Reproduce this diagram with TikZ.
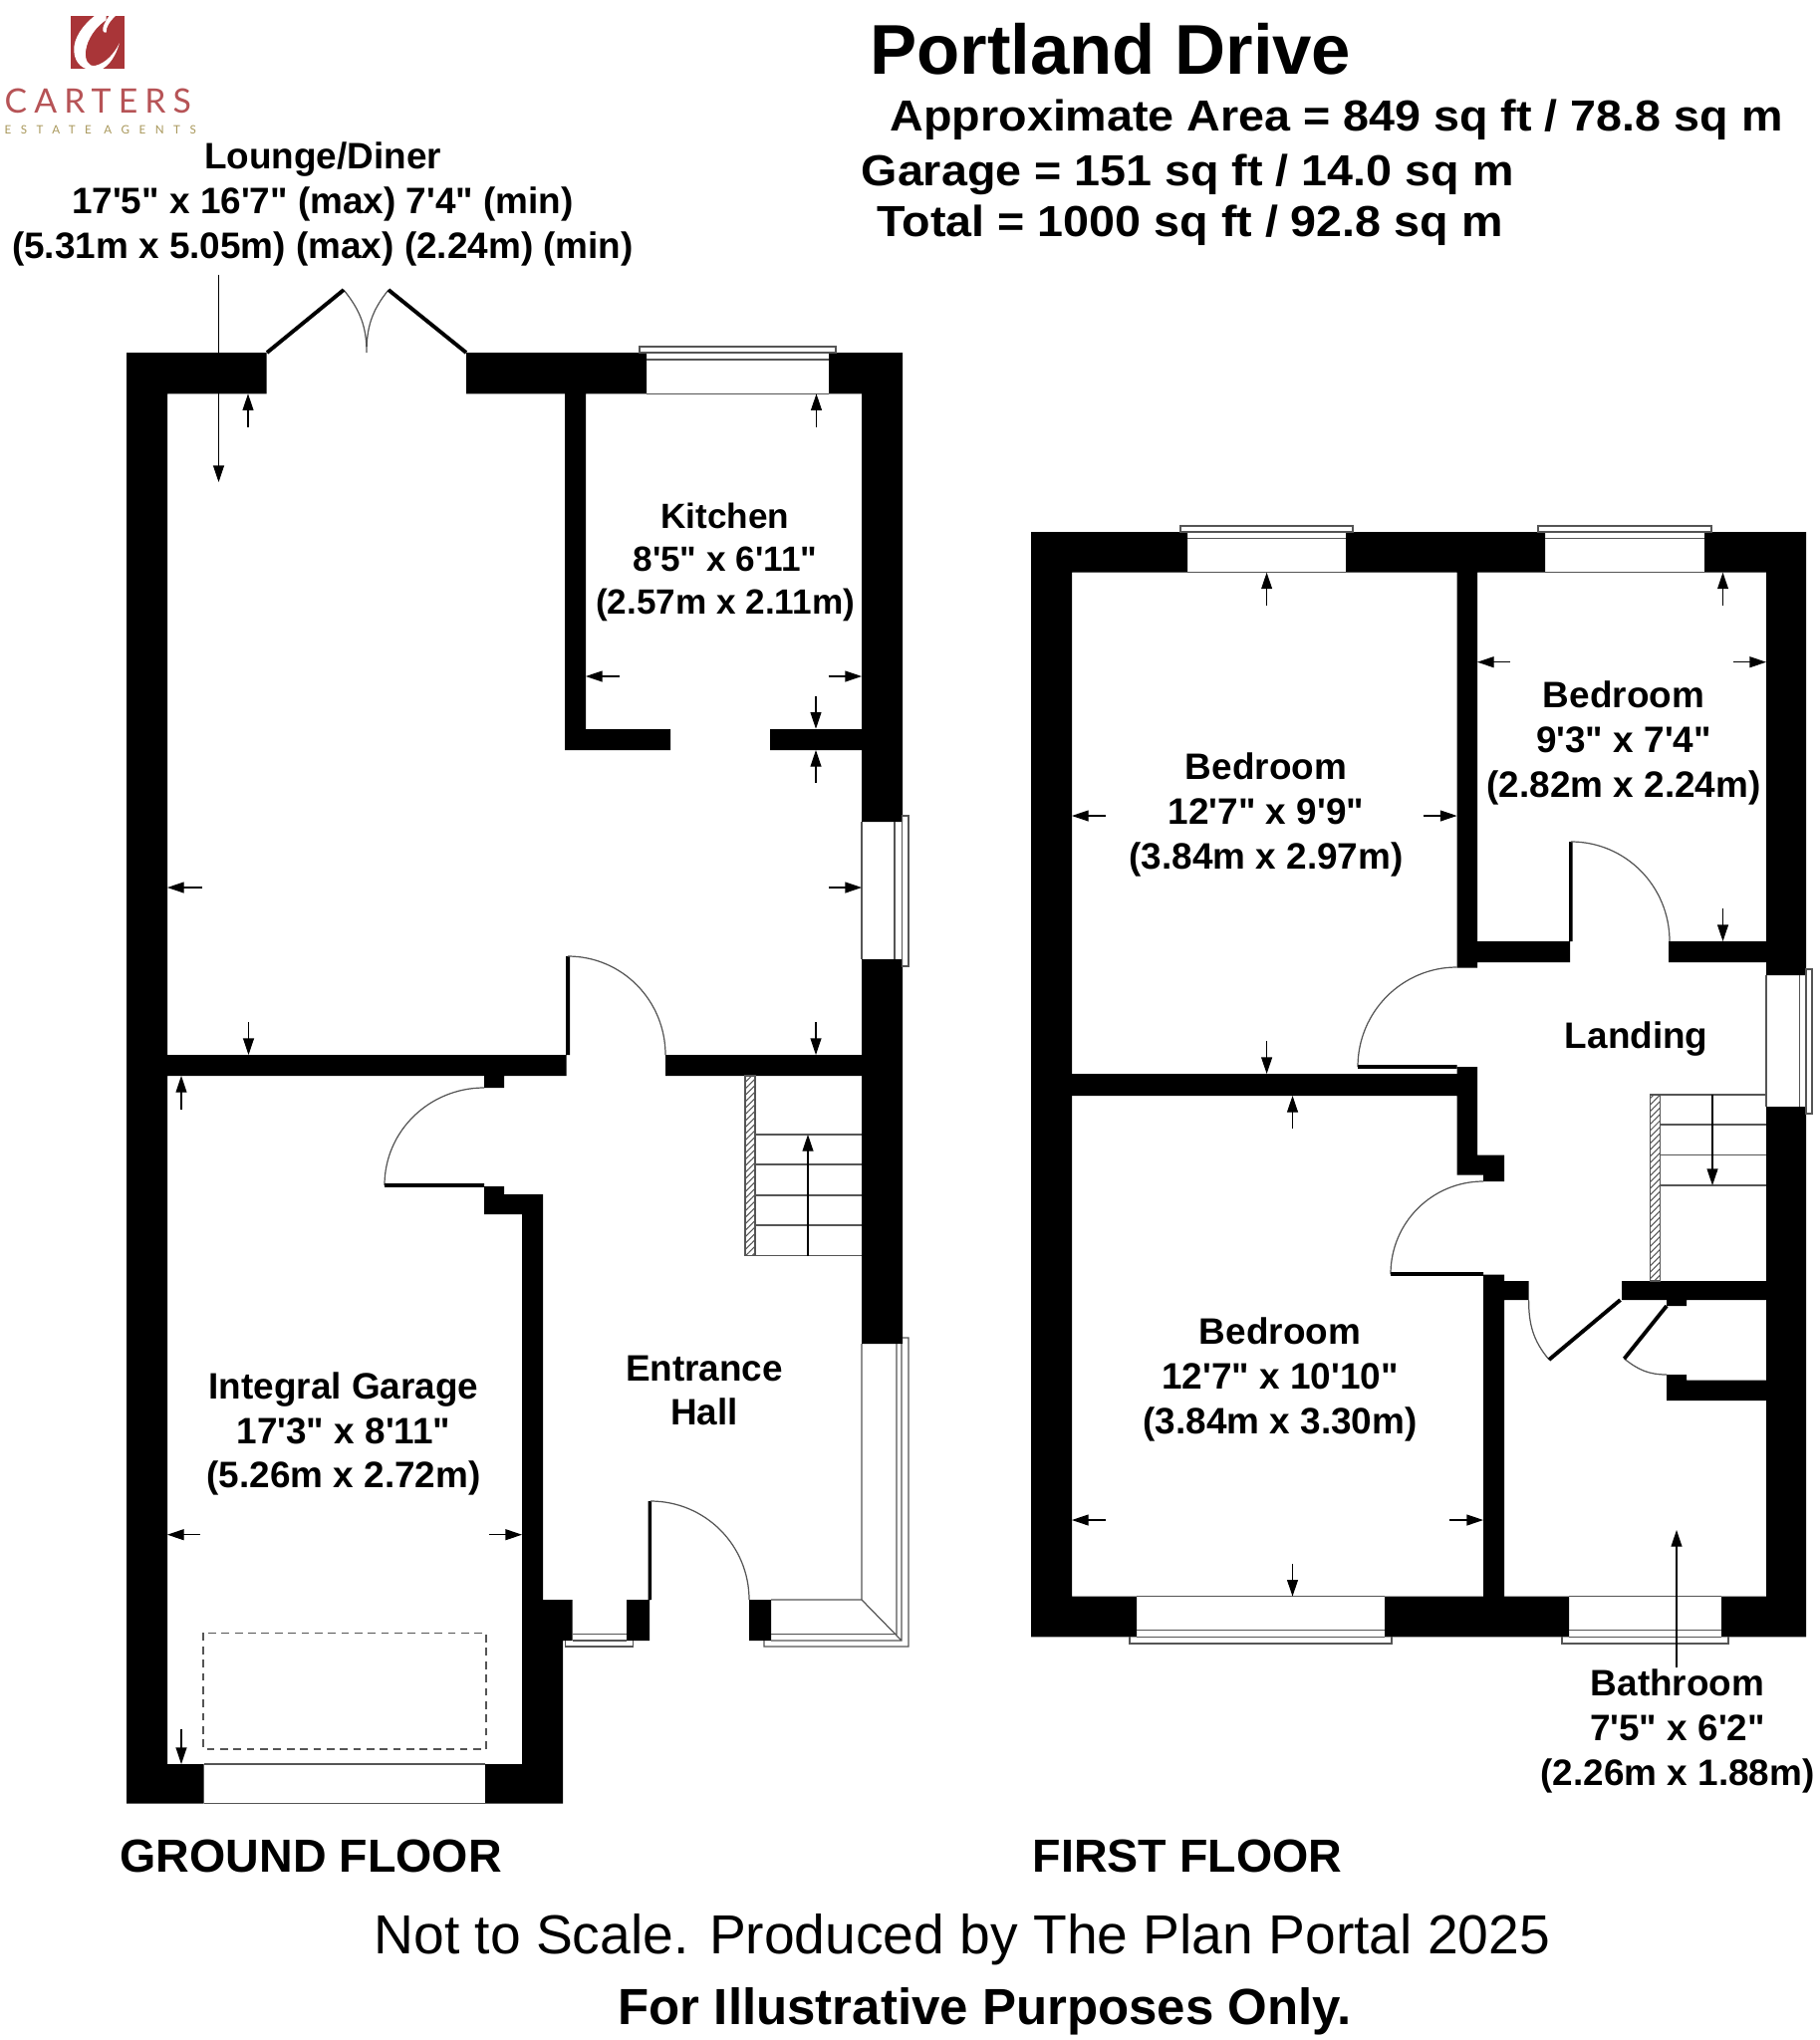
\documentclass[tikz,border=0pt]{standalone}
\usepackage{fontspec}
\newfontfamily\planfont{Liberation Sans}
\newfontfamily\headfont[FakeStretch=1.07]{Liberation Sans}
\newfontfamily\cartersfont[LetterSpace=21]{Lato}
\newfontfamily\agentsfont[LetterSpace=82]{Lato}
\usetikzlibrary{arrows.meta,patterns.meta}
\definecolor{logored}{HTML}{A93538}
\definecolor{logogold}{HTML}{A8975A}
\definecolor{planline}{HTML}{555555}
\tikzset{
	thinline/.style={draw=planline,line width=.35pt},
	leaf/.style={line width=1.1pt},
	dimarrow/.style={draw=black,line width=.3pt,-{Stealth[length=4.7pt,width=3.1pt,inset=0pt]}},
	room/.style={align=center,inner sep=0pt,font=\planfont\fontsize{10.5}{12.7}\selectfont\bfseries},
	head/.style={anchor=base west,inner sep=0pt,font=\headfont\fontsize{12.4}{14}\selectfont\bfseries},
	floorname/.style={anchor=base west,inner sep=0pt,font=\planfont\fontsize{13.25}{15}\selectfont\bfseries}
}
\begin{document}
\begin{tikzpicture}[x=0.01cm,y=-0.01cm,line join=miter]
\useasboundingbox (0,0) rectangle (1826,2048);
% logo
\begin{scope}
\clip (71,16) rectangle (125,69);
\fill[logored] (71,16) rectangle (125,69);
\begin{scope}[shift={(65,10)},x=0.00333cm,y=-0.00333cm]
\fill[white] (92,16) .. controls (55,45) and (25,85) .. (28,125) .. controls (30,160) and (55,182) .. (85,180)
	-- (108,180) .. controls (135,170) and (155,135) .. (165,100) .. controls (150,130) and (125,160) .. (92,168)
	.. controls (72,172) and (60,150) .. (63,125) .. controls (68,85) and (95,50) .. (125,30) -- (125,16) -- cycle;
\fill[white] (135,16) -- (155,16) .. controls (135,35) and (125,50) .. (125,68)
	.. controls (115,70) and (112,60) .. (118,45) .. controls (122,35) and (128,25) .. (135,16) -- cycle;
\end{scope}
\end{scope}
\node[anchor=base west,inner sep=0pt,text=logored!85] (carters) at (4,113) {\cartersfont\fontsize{9.6}{10}\selectfont CARTERS};
\node[anchor=base west,inner sep=0pt,text=logogold] (agents) at (4,134) {\agentsfont\fontsize{3.3}{4}\selectfont ESTATE AGENTS};
% headings
\node[head,font=\planfont\fontsize{20.1}{22}\selectfont\bfseries] (title) at (872.5,74) {Portland Drive};
\node[head] (area) at (893,131) {Approximate Area = 849 sq ft / 78.8 sq m};
\node[head] (garagearea) at (864,186) {Garage = 151 sq ft / 14.0 sq m};
\node[head] (total) at (880,237) {Total = 1000 sq ft / 92.8 sq m};
% ground floor walls
\fill (127,354) rectangle (168,1810.5)
	(127,354) rectangle (267.5,395.3)
	(468,354) rectangle (649,395.3)
	(832,354) rectangle (906,395.3)
	(865,354) rectangle (906,825)
	(567,395) rectangle (588,753)
	(567,732) rectangle (673,753)
	(773,732) rectangle (865,753)
	(865,963) rectangle (906,1349)
	(168,1059) rectangle (568.5,1080)
	(568,960) rectangle (572,1059)
	(668,1059) rectangle (865,1080)
	(486,1080) rectangle (506,1092)
	(127,1771) rectangle (204.5,1810.5)
	(629,1606) rectangle (652,1647)
	(650.5,1507) rectangle (654,1606)
	(752,1606) rectangle (774,1647);
\fill (486,1191)--(506,1191)--(506,1199)--(545,1199)--(545,1606)--(574.5,1606)--(574.5,1647)--(565,1647)--(565,1810.5)--(487,1810.5)--(487,1771)--(524,1771)--(524,1219)--(486,1219)--cycle;
% ground floor windows
\draw[thinline] (649,395.3)--(832,395.3) (649,361)--(832,361) (642,354)--(642,348)--(839,348)--(839,354)--cycle;
\draw[thinline] (865,825)--(865,963) (898,825)--(898,963) (905.7,819)--(912,819)--(912,970)--(905.7,970)--cycle;
\draw[thinline] (574.5,1640.6)--(629,1640.6) (574.5,1647)--(629,1647) (567.6,1647)--(567.6,1653)--(635.6,1653)--(635.6,1647);
\draw[thinline] (774,1606)--(865,1606)--(865,1349) (905,1349)--(905,1647)--(774,1647) (900,1349)--(900,1640.6)--(774,1640.6) (865,1606)--(905,1647) (906,1343)--(912,1343)--(912,1653)--(767,1653)--(767,1647);
\draw[thinline] (204.5,1771)--(487,1771) (204.5,1810.5)--(487,1810.5);
\draw[thinline,dashed,dash pattern=on 2.2pt off 1.6pt] (204,1639.4) rectangle (488,1756);
% ground floor doors
\draw[thinline] (570,960) to[out=0,in=90] (668,1059)
	(486,1092) to[out=180,in=90] (386,1190)
	(653,1507) to[out=0,in=90] (752,1606)
	(345,291) to[out=-51,in=90] (368,354)
	(390,291) to[out=-129,in=90] (368,354);
\draw[leaf] (386,1190)--(486,1190) (268,354)--(345,291) (468,354)--(390,291);
% ground floor stairs
\draw[thinline,pattern={Lines[angle=45,distance=1.3pt,line width=.3pt]},pattern color=planline] (748,1080) rectangle (758,1260.6);
\foreach \ya in {1139,1169,1200,1230,1260.6}
	\draw[thinline] (758,\ya)--(865,\ya);
\draw[dimarrow] (811,1260.6)--(811,1139);
% first floor walls
\fill (1035,534) rectangle (1076,1643.4)
	(1035,534) rectangle (1192,574.7)
	(1351,534) rectangle (1551,574.7)
	(1711,534) rectangle (1813,574.7)
	(1773,534) rectangle (1813,979)
	(1462.5,574.7) rectangle (1483,971.7)
	(1483,945) rectangle (1576,966)
	(1575,845) rectangle (1578.5,945)
	(1675,945) rectangle (1773,966)
	(1035,1602.6) rectangle (1141,1643.4)
	(1390,1602.6) rectangle (1575,1643.4)
	(1728,1602.6) rectangle (1813,1643.4)
	(1773,1111) rectangle (1813,1643.4)
	(1628,1286) rectangle (1773,1305)
	(1673,1305) rectangle (1693,1311);
\fill (1076,1078)--(1462.5,1078)--(1462.5,1071)--(1483,1071)--(1483,1159.5)--(1510,1159.5)--(1510,1186)--(1489,1186)--(1489,1179.6)--(1462.5,1179.6)--(1462.5,1100)--(1076,1100)--cycle;
\fill (1489,1279.5)--(1510,1279.5)--(1510,1286)--(1534.6,1286)--(1534.6,1305)--(1510,1305)--(1510,1603)--(1489,1603)--cycle;
\fill (1673,1380)--(1693,1380)--(1693,1385.6)--(1773,1385.6)--(1773,1406)--(1673,1406)--cycle;
% first floor windows
\foreach \xa/\xb in {1192/1351,1551/1711}
	\draw[thinline] (\xa,574.7)--(\xb,574.7) (\xa,540.7)--(\xb,540.7) (\xa-7,534)--(\xa-7,528)--(\xb+7,528)--(\xb+7,534)--cycle;
\foreach \xa/\xb in {1141/1390,1575/1728}
	\draw[thinline] (\xa,1602.6)--(\xb,1602.6) (\xa,1636.5)--(\xb,1636.5) (\xa,1643.4)--(\xb,1643.4) (\xa-7,1643.4)--(\xa-7,1650)--(\xb+7,1650)--(\xb+7,1643.4);
\draw[thinline] (1773,979)--(1773,1111) (1806.7,979)--(1806.7,1111) (1813,973)--(1819,973)--(1819,1118)--(1813,1118)--cycle;
% first floor doors
\draw[thinline] (1577,845) to[out=0,in=90] (1676,945)
	(1462.5,971) to[out=180,in=90] (1363,1071)
	(1489,1186) to[out=180,in=90] (1396,1279)
	(1534.6,1305) to[out=-90,in=130] (1555,1365)
	(1630.5,1364) to[out=-39,in=180] (1673,1380);
\draw[leaf] (1363,1071)--(1462.5,1071) (1396,1279)--(1489,1279) (1555,1365)--(1626.5,1305) (1630.5,1364)--(1673,1311);
% first floor stairs
\draw[thinline,pattern={Lines[angle=45,distance=1.3pt,line width=.3pt]},pattern color=planline] (1656.4,1099) rectangle (1666.6,1286);
\foreach \ya in {1099,1129,1159.5,1190}
	\draw[thinline] (1666.6,\ya)--(1773,\ya);
\draw[dimarrow] (1719,1099)--(1719,1190);
% dimension arrows
\foreach \xa/\ya/\xb/\yb in {
	219.5/275.5/219.5/484, 249/428.6/249/395.3, 819.5/428.6/819.5/395.3,
	621.7/679/588/679, 831.7/679/865/679, 819/699/819/731.7, 819/785.7/819/753,
	203/891/168/891, 832/891/865/891, 249.5/1026/249.5/1059, 819/1026/819/1059,
	182/1113.6/182/1080, 200.7/1540.7/168/1540.7, 491/1540.7/524/1540.7, 182/1736/182/1771,
	1271.6/608/1271.6/574.7, 1729.5/608/1729.5/574.7, 1516/664.7/1483/664.7, 1740/664.7/1773/664.7,
	1110/819/1076/819, 1429/819/1462.5/819, 1729.5/912/1729.5/945,
	1271.6/1045/1271.6/1078, 1297.5/1132.5/1297.5/1100, 1110/1526/1076/1526, 1455/1526/1489/1526,
	1297.5/1570/1297.5/1602.6, 1683/1674/1683/1536}
	\draw[dimarrow] (\xa,\ya)--(\xb,\yb);
% rooms
\node[room] (lounge) at (324,205) {Lounge/Diner\\17'5" x 16'7" (max) 7'4" (min)\\(5.31m x 5.05m) (max) (2.24m) (min)};
\node[room,font=\planfont\fontsize{10}{12.2}\selectfont\bfseries] (kitchen) at (728,564) {Kitchen\\8'5" x 6'11"\\(2.57m x 2.11m)};
\node[room] (garage) at (345,1439.5) {Integral Garage\\17'3" x 8'11"\\(5.26m x 2.72m)};
\node[room] (hall) at (707,1396) {Entrance\\Hall};
\node[room] (bedone) at (1271,818) {Bedroom\\12'7" x 9'9"\\(3.84m x 2.97m)};
\node[room] (bedtwo) at (1630,746) {Bedroom\\9'3" x 7'4"\\(2.82m x 2.24m)};
\node[room] (landing) at (1642.7,1043) {Landing};
\node[room] (bedthree) at (1285,1385) {Bedroom\\12'7" x 10'10"\\(3.84m x 3.30m)};
\node[room] (bathroom) at (1684,1738) {Bathroom\\7'5" x 6'2"\\(2.26m x 1.88m)};
% footer
\node[floorname] (groundfloor) at (120,1879) {GROUND FLOOR};
\node[floorname] (firstfloor) at (1036,1879) {FIRST FLOOR};
\node[anchor=base,inner sep=0pt,font=\planfont\fontsize{15.7}{17}\selectfont] (scale) at (965.8,1961.7) {Not to Scale. Produced by The Plan Portal 2025};
\node[anchor=base,inner sep=0pt,font=\planfont\fontsize{14.5}{16}\selectfont\bfseries] (purposes) at (988.5,2032) {For Illustrative Purposes Only.};
\end{tikzpicture}
\end{document}
